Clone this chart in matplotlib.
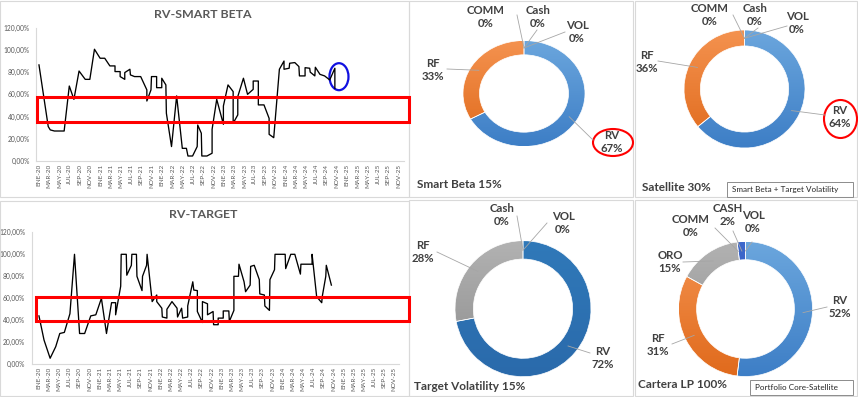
import matplotlib
matplotlib.use('Agg')
import matplotlib.pyplot as plt
import matplotlib.transforms as mtransforms
import numpy as np
from matplotlib.patches import Rectangle, Ellipse
from matplotlib.colors import LinearSegmentedColormap
from matplotlib.lines import Line2D

plt.rcParams['font.family'] = ['Lato', 'DejaVu Sans']

W, H = 858, 397

# eje x: meses desde ENE-20
meses = ['ENE', 'FEB', 'MAR', 'ABR', 'MAY', 'JUN', 'JUL', 'AGO', 'SEP', 'OCT', 'NOV', 'DIC']
tick_months = list(range(0, 71, 2))
tick_labels = [f'{meses[m % 12]}-{20 + m // 12}' for m in tick_months]
y_ticks = [0, 20, 40, 60, 80, 100, 120]
y_labels = ['0,00%', '20,00%', '40,00%', '60,00%', '80,00%', '100,00%', '120,00%']

# RV-SMART BETA (peso RV en %)
sb_mes = [0, 1.8, 2.2, 3.0, 4.9, 5.9, 6.8, 7.8, 9.0, 9.9,
          10.8, 11.9, 12.8, 13.8, 14.8, 14.8, 15.8, 15.8, 16.7, 16.7,
          17.7, 17.8, 18.6, 19.8, 21.0, 21.0, 21.8, 21.9, 22.9, 22.9,
          23.9, 23.9, 24.7, 24.8, 25.8, 26.8, 27.9, 28.7, 29.0, 29.9,
          30.8, 30.9, 31.6, 31.7, 32.7, 33.7, 33.7, 34.6, 35.9, 35.9,
          36.8, 37.8, 37.8, 38.7, 38.7, 39.8, 40.6, 41.7, 41.7, 42.7,
          42.7, 43.8, 44.8, 44.8, 45.7, 46.8, 47.7, 47.7, 48.7, 48.8,
          49.8, 50.6, 50.7, 51.8, 51.8, 52.7, 52.8, 53.7, 53.8, 54.7,
          55.6, 56.6, 57.6, 57.6]
sb_rv = [86.5, 31, 28, 27, 27, 67.5, 55.5, 81, 73.5, 73.5,
         100.6, 92.5, 92.5, 85.6, 85.6, 80.5, 80.5, 76, 73.5, 79.6,
         82.6, 77.5, 76, 76, 64, 54, 64, 76, 76, 66,
         66, 74.5, 68.5, 43, 13, 58.6, 11.4, 11.4, 4.5, 4.5,
         13, 32.4, 25, 4.5, 4.5, 7, 28.5, 55.5, 33, 49.5,
         68.5, 62.5, 34, 41.5, 58, 74.5, 60, 64.5, 72, 72,
         50.5, 50.5, 38.4, 24, 21, 82.6, 90, 82.6, 83.5, 88,
         88.6, 85, 76.6, 76.6, 84, 83.5, 80, 76.6, 84.4, 78,
         76.6, 73, 83.5, 65.5]

# RV-TARGET (peso RV en %)
tg_mes = [0, 1.0, 2.2, 3.3, 4.1, 5.0, 6.1, 7.0, 8.0, 9.0,
          10.2, 11.2, 12.3, 13.3, 14.3, 15.1, 15.1, 16.1, 16.2, 17.2,
          17.3, 18.2, 18.3, 19.2, 19.3, 20.3, 20.4, 21.2, 21.3, 22.3,
          23.2, 23.2, 24.2, 24.3, 25.2, 25.2, 26.2, 27.2, 27.3, 28.1,
          28.3, 29.3, 29.3, 30.3, 30.5, 31.2, 31.2, 32.2, 32.2, 33.2,
          33.2, 34.3, 34.4, 35.3, 35.3, 36.3, 36.3, 37.4, 37.5, 38.4,
          38.4, 39.3, 39.4, 40.4, 40.7, 41.6, 41.7, 42.4, 43.4, 43.5,
          44.4, 44.5, 45.4, 45.5, 46.4, 46.5, 48.5, 48.6, 49.6, 50.4,
          51.5, 51.6, 53.8, 53.8, 54.7, 55.7, 55.8, 56.5, 56.6, 57.6]
tg_rv = [44, 22, 5.5, 16, 28, 29, 46, 100, 28, 28,
         44, 45, 60, 28, 56, 56, 45, 71, 100, 100,
         81, 90, 100, 100, 80, 67, 80, 90, 100, 57,
         63, 57, 51, 43, 42, 50, 57, 51, 43, 51,
         42, 43, 53, 75, 67.5, 67, 48, 38, 57, 55,
         45, 48, 36, 36, 42, 42, 48.5, 48.5, 39, 49,
         80, 80, 91, 75, 66, 72, 89, 90, 77, 64,
         63, 53, 49, 77, 86, 100, 100, 87, 100, 100,
         82, 91, 91, 100, 61.5, 56, 61.5, 80, 90, 72]

# donuts
sb_labels = ['RV', 'RF', 'COMM', 'Cash', 'VOL']
sb_vals = [67, 33, 0, 0, 0]
sat_labels = ['RV', 'RF', 'COMM', 'Cash', 'VOL']
sat_vals = [64, 36, 0, 0, 0]
tv_labels = ['RV', 'RF', 'Cash', 'VOL']
tv_vals = [72, 28, 0, 0]
lp_labels = ['RV', 'RF', 'ORO', 'COMM', 'CASH', 'VOL']
lp_vals = [52, 31, 15, 0, 2, 0]

BLUE = ('#6ba6dd', '#3d7ec6')
ORANGE = ('#f4924f', '#e06a1c')
GRAY = ('#b2b2b2', '#8c8c8c')
DBLUE = ('#3079b9', '#2a6aab')
CASHB = ('#3d68cc', '#2c52ad')

LABEL_C = '#404040'
AXIS_C = '#595959'
GRID_C = '#d9d9d9'


def fx(px):
    return px / W


def fy(py):
    return 1 - py / H


fig = plt.figure(figsize=(W / 100, H / 100), dpi=100)
fig.patch.set_facecolor('white')

# panel borders
for x0, y0, x1, y1 in [(0, 1, 409, 197), (0, 201, 409, 396), (409, 1, 633, 197),
                       (635, 1, 857, 197), (409, 200, 633, 396), (635, 200, 857, 396)]:
    fig.add_artist(Rectangle((fx(x0), fy(y1)), fx(x1 - x0), (y1 - y0) / H,
                             transform=fig.transFigure, fill=False, ec=GRID_C, lw=0.8))


def line_chart(box, xmin, title, title_y, mes, vals, band):
    x0, y0, x1, y1 = box
    ax = fig.add_axes([fx(x0), fy(y1), fx(x1 - x0), (y1 - y0) / H])
    ax.plot(mes, vals, color='black', lw=0.95)
    ax.set_xlim(xmin, 71)
    ax.set_ylim(0, 120)
    ax.set_xticks(tick_months)
    ax.set_xticklabels(tick_labels, rotation=90, fontsize=4.6, color=AXIS_C)
    ax.set_yticks(y_ticks)
    ax.set_yticklabels(y_labels, fontsize=4.8, color=AXIS_C)
    ax.tick_params(axis='y', length=0, pad=4.5)
    ax.tick_params(axis='x', length=0, pad=2)
    for s in ['top', 'right']:
        ax.spines[s].set_visible(False)
    for s in ['left', 'bottom']:
        ax.spines[s].set_color(GRID_C)
        ax.spines[s].set_linewidth(0.8)
    fig.text(fx(203), fy(title_y), title, ha='center', va='center',
             fontsize=8.9, fontweight='bold', color=AXIS_C)
    # red band highlighting the 40-60% zone
    tr = mtransforms.blended_transform_factory(fig.transFigure, ax.transData)
    fig.add_artist(Rectangle((fx(band[0]), band[1]), fx(409 - band[0]), band[2] - band[1],
                             transform=tr, fill=False, ec='#ff0000', lw=2.2))
    return ax


ax1 = line_chart((35.9, 27.7, 403.7, 161), -0.6, 'RV-SMART BETA', 14, sb_mes, sb_rv, (36.7, 35.4, 58))
ax1.add_patch(Ellipse((58.4, 75.9), 3.7, 24.3, fill=False, ec='#1010e0', lw=1.6, clip_on=False))
ax2 = line_chart((31.6, 232.3, 399.4, 364.3), -1.45, 'RV-TARGET', 215, tg_mes, tg_rv, (35.7, 39.7, 61))


def donut(cx, cy, rx, ry, vals, labels, shades, lab_pos, title, title_xy):
    ax = fig.add_axes([fx(cx - rx), fy(cy + ry), fx(2 * rx), 2 * ry / H])
    wedges, _ = ax.pie(vals, startangle=90, counterclock=False, radius=1,
                       wedgeprops=dict(width=0.27, edgecolor='white', linewidth=0.5))
    grad = np.linspace(0, 1, 128).reshape(-1, 1)
    for w, (top, bot), v in zip(wedges, shades, vals):
        w.set_zorder(2)
        if v == 0:
            w.set_visible(False)
            continue
        cmap = LinearSegmentedColormap.from_list('g', [bot, top])
        im = ax.imshow(grad, cmap=cmap, extent=(-1, 1, -1, 1), origin='lower',
                       aspect='auto', zorder=1)
        im.set_clip_path(w)
        w.set_facecolor('none')
    ax.set_aspect('auto')
    ax.set_xlim(-1, 1)
    ax.set_ylim(-1, 1)
    ax.axis('off')

    total = sum(vals)
    cum = 0
    for v, lab, (lx, ly, sx, sy) in zip(vals, labels, lab_pos):
        mid = np.deg2rad(90 - 360 * (cum + v / 2) / total)
        cum += v
        ex = cx + rx * 0.86 * np.cos(mid)
        ey = cy - ry * 0.86 * np.sin(mid)
        fig.add_artist(Line2D([fx(sx), fx(ex)], [fy(sy), fy(ey)], transform=fig.transFigure,
                              color='#a6a6a6', lw=0.6))
        fig.text(fx(lx), fy(ly), f'{lab}\n{v}%', ha='center', va='center', fontsize=8.2,
                 fontweight='bold', color=LABEL_C, linespacing=1.3)
    fig.text(fx(title_xy[0]), fy(title_xy[1]), title, ha='left', va='center',
             fontsize=8.5, fontweight='bold', color=LABEL_C)


donut(524, 93.5, 61, 53, sb_vals, sb_labels, [BLUE, ORANGE, GRAY, GRAY, GRAY],
      [(612, 142, 593, 140), (433, 70, 447, 69), (486, 17, 517, 15),
       (538, 17, 537, 30), (577, 32, 565, 32)],
      'Smart Beta 15%', (417, 184))
donut(744.5, 89, 60.5, 59, sat_vals, sat_labels, [BLUE, ORANGE, GRAY, GRAY, GRAY],
      [(840, 117, 825, 115), (647, 62, 658, 61), (710, 15, 733, 15),
       (755, 15, 758, 28), (797, 23, 787, 26)],
      'Satellite 30%', (642, 188))
donut(523, 308.7, 68, 68, tv_vals, tv_labels, [DBLUE, GRAY, GRAY, GRAY],
      [(603, 358, 590, 353), (423, 252, 437, 252), (502, 215, 517, 216),
       (563, 223, 547, 223)],
      'Target Volatility 15%', (414, 387))
donut(745.5, 309, 67, 67.5, lp_vals, lp_labels, [BLUE, ORANGE, GRAY, GRAY, CASHB, GRAY],
      [(840, 307, 827, 307), (658, 345, 672, 344), (670, 262, 683, 262),
       (691, 226, 715, 228), (728, 215, 733, 231), (753, 222, 752, 242)],
      'Cartera LP 100%', (638, 385))

# highlight circles around RV labels
for ex, ey, ew, eh in [(613, 142.5, 40, 27), (840.5, 119, 33, 38)]:
    fig.add_artist(Ellipse((fx(ex), fy(ey)), fx(ew), eh / H, transform=fig.transFigure,
                           fill=False, ec='#ff0000', lw=1.5))

# legend boxes
for x0, y0, x1, y1, txt in [(727, 182, 853, 197, 'Smart Beta + Target Volatility'),
                            (750, 380, 853, 395, 'Portfolio Core-Satellite')]:
    fig.add_artist(Rectangle((fx(x0), fy(y1)), fx(x1 - x0), (y1 - y0) / H,
                             transform=fig.transFigure, fill=False, ec='#8c8c8c', lw=0.7))
    fig.text(fx(x0 + 5), fy((y0 + y1) / 2), txt, ha='left', va='center',
             fontsize=5.9, color='#262626')

fig.savefig('out.png', dpi=100)
